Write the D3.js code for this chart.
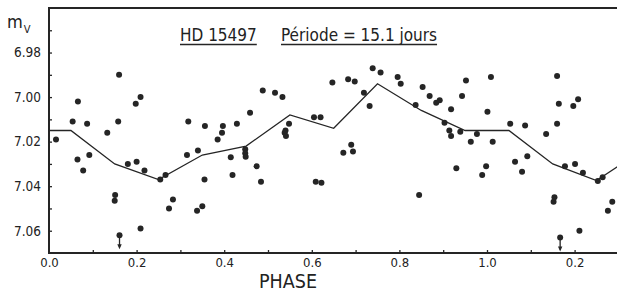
<!DOCTYPE html>
<html>
<head>
<meta charset="utf-8">
<script src="https://cdn.jsdelivr.net/npm/d3@7"></script>
<style>
  body { margin: 0; background: #fff; }
  text { font-family: "DejaVu Sans Condensed", "DejaVu Sans", sans-serif; fill: #222; }
</style>
</head>
<body>
<div id="my_dataviz"></div>
<script>
// Observed points (phase, apparent magnitude)
var phases = [0.016, 0.160, 0.066, 0.054, 0.087, 0.133, 0.158, 0.198, 0.209, 0.318,
  0.356, 0.397, 0.395, 0.385, 0.429, 0.459, 0.488, 0.516, 0.533, 0.548,
  0.540, 0.538, 0.541, 0.605, 0.620, 0.647, 0.683, 0.698, 0.719, 0.739,
  0.757, 0.732, 0.796, 0.803, 0.837, 0.853, 0.869, 0.884, 0.892, 0.918,
  0.903, 0.952, 0.943, 0.914, 0.918, 0.939, 0.963, 0.977, 0.672, 0.690,
  0.694, 0.065, 0.078, 0.092, 0.151, 0.150, 0.209, 0.180, 0.200, 0.218,
  0.254, 0.266, 0.283, 0.274, 0.315, 0.340, 0.355, 0.338, 0.350, 0.415,
  0.419, 0.448, 0.448, 0.449, 0.474, 0.484, 0.609, 0.622, 0.845, 0.930,
  0.989, 0.998,
  1.009, 1.001, 1.013, 1.053, 1.087, 1.160, 1.164, 1.160, 1.135, 1.208,
  1.197, 1.064, 1.080, 1.092, 1.152, 1.154, 1.178, 1.201, 1.219, 1.211,
  1.253, 1.264, 1.276, 1.286];
var mags = [7.019, 6.990, 7.002, 7.011, 7.012, 7.016, 7.011, 7.003, 7.000, 7.011,
  7.013, 7.013, 7.016, 7.019, 7.012, 7.007, 6.997, 6.998, 7.000, 7.012,
  7.015, 7.016, 7.0175, 7.009, 7.009, 6.9935, 6.992, 6.993, 6.998, 6.987,
  6.989, 7.004, 6.991, 6.994, 7.0035, 6.9955, 6.9995, 7.0025, 7.0014, 7.0055,
  7.0115, 6.9926, 6.9995, 7.015, 7.0175, 7.0156, 7.020, 7.0166, 7.025, 7.0214,
  7.0244, 7.028, 7.033, 7.026, 7.044, 7.0465, 7.059, 7.030, 7.029, 7.033,
  7.037, 7.035, 7.046, 7.050, 7.026, 7.024, 7.037, 7.051, 7.049, 7.027,
  7.035, 7.0234, 7.0252, 7.0268, 7.031, 7.038, 7.038, 7.0385, 7.044, 7.032,
  7.035, 7.031,
  6.991, 7.0066, 7.020, 7.012, 7.0127, 6.9905, 7.003, 7.012, 7.0166, 7.001,
  7.004, 7.029, 7.0335, 7.0266, 7.047, 7.045, 7.031, 7.030, 7.034, 7.060,
  7.0377, 7.036, 7.051, 7.047];

// Upper limits (drawn with a down arrow)
var limitPhases = [0.161, 1.167];
var limitMags = [7.062, 7.063];

// Mean light curve
var meanPhases = [0, 0.05, 0.15, 0.25, 0.35, 0.45, 0.55, 0.65, 0.75, 0.85, 0.95, 1.05, 1.15, 1.25, 1.30];
var meanMags = [7.015, 7.015, 7.030, 7.037, 7.026, 7.022, 7.008, 7.014, 6.994, 7.006, 7.015, 7.015, 7.030, 7.0375, 7.031];

// Ticks
var xTickValues = [0, 0.2, 0.4, 0.6, 0.8, 1.0, 1.2];
var xTickLabels = ["0.0", "0.2", "0.4", "0.6", "0.8", "1.0", "0.2"];
var xMinorTicks = [0.1, 0.2, 0.3, 0.4, 0.5, 0.6, 0.7, 0.8, 0.9, 1.0, 1.1, 1.2];
var yTickValues = [6.98, 7.00, 7.02, 7.04, 7.06];
var yTickLabels = ["6.98", "7.00", "7.02", "7.04", "7.06"];
var yMinorTicks = [6.97, 6.98, 6.99, 7.00, 7.01, 7.02, 7.03, 7.04, 7.05, 7.06];

var W = 617, H = 293;
var ink = "#252525";

var svg = d3.select("#my_dataviz")
  .append("svg")
    .attr("width", W)
    .attr("height", H);

var x = d3.scaleLinear().domain([0, 1.3]).range([49, 618.4]);
var y = d3.scaleLinear().domain([6.96, 7.07]).range([8, 253]);

//Frame: left, bottom, top
svg.append("line").attr("x1", 49).attr("x2", 49).attr("y1", 7).attr("y2", 254)
  .attr("stroke", ink).attr("stroke-width", 2);
svg.append("line").attr("x1", 48).attr("x2", W).attr("y1", 253).attr("y2", 253)
  .attr("stroke", ink).attr("stroke-width", 2);
svg.append("line").attr("x1", 48).attr("x2", W).attr("y1", 8).attr("y2", 8)
  .attr("stroke", ink).attr("stroke-width", 2);

//X axis: inward ticks + labels
var xAxis = svg.append("g")
  .attr("transform", "translate(0,253)")
  .call(d3.axisBottom(x).tickValues(xMinorTicks).tickSize(-3).tickSizeOuter(0).tickFormat(""));
xAxis.select(".domain").remove();
xAxis.selectAll("line").attr("stroke", ink).attr("stroke-width", 1.3);

var xLab = svg.append("g")
  .attr("transform", "translate(0,253)")
  .call(d3.axisBottom(x).tickValues(xTickValues).tickSize(0).tickPadding(5)
    .tickFormat(function(d, i) { return xTickLabels[i]; }));
xLab.select(".domain").remove();
xLab.selectAll("text").style("font-size", "13px").attr("fill", ink);

//Y axis: inward ticks + labels
var yAxis = svg.append("g")
  .attr("transform", "translate(49,0)")
  .call(d3.axisLeft(y).tickValues(yMinorTicks).tickSize(-3).tickSizeOuter(0).tickFormat(""));
yAxis.select(".domain").remove();
yAxis.selectAll("line").attr("stroke", ink).attr("stroke-width", 1.3);

var yLab = svg.append("g")
  .attr("transform", "translate(49,0)")
  .call(d3.axisLeft(y).tickValues(yTickValues).tickSize(0).tickPadding(8)
    .tickFormat(function(d, i) { return yTickLabels[i]; }));
yLab.select(".domain").remove();
yLab.selectAll("text").style("font-size", "13.5px").attr("fill", ink);

//Axis titles
svg.append("text")
  .attr("x", 288)
  .attr("y", 288)
  .attr("text-anchor", "middle")
  .style("font-size", "19.5px")
  .text("PHASE");

var my = svg.append("text")
  .attr("x", 7)
  .attr("y", 28)
  .style("font-size", "18px");
my.append("tspan").text("m");
my.append("tspan").attr("dx", 1).attr("dy", 5).style("font-size", "11px").text("V");

//Title with underlines
var titles = [{t: "HD 15497", x: 180}, {t: "Période = 15.1 jours", x: 281}];
titles.forEach(function(d) {
  var tx = svg.append("text")
    .attr("x", d.x)
    .attr("y", 41)
    .style("font-size", "17px")
    .text(d.t);
  var len = tx.node().getComputedTextLength();
  svg.append("line")
    .attr("x1", d.x).attr("x2", d.x + len)
    .attr("y1", 44.5).attr("y2", 44.5)
    .attr("stroke", ink).attr("stroke-width", 1.4);
});

//Mean curve
var meanData = meanPhases.map(function(p, i) { return [p, meanMags[i]]; });
svg.append("path")
  .datum(meanData)
  .attr("fill", "none")
  .attr("stroke", ink)
  .attr("stroke-width", 1.3)
  .attr("d", d3.line()
    .x(function(d) { return x(d[0]); })
    .y(function(d) { return y(d[1]); }));

//Dots
var pts = phases.map(function(p, i) { return {p: p, m: mags[i]}; });
svg.append("g")
  .selectAll("circle")
  .data(pts)
  .enter()
  .append("circle")
    .attr("cx", function(d) { return x(d.p); })
    .attr("cy", function(d) { return y(d.m); })
    .attr("r", 3)
    .attr("fill", ink);

//Upper limits with arrows
var lim = limitPhases.map(function(p, i) { return {p: p, m: limitMags[i]}; });
var lg = svg.append("g").selectAll("g").data(lim).enter().append("g");
lg.append("circle")
  .attr("cx", function(d) { return x(d.p); })
  .attr("cy", function(d) { return y(d.m); })
  .attr("r", 3)
  .attr("fill", ink);
lg.append("line")
  .attr("x1", function(d) { return x(d.p); })
  .attr("x2", function(d) { return x(d.p); })
  .attr("y1", function(d) { return y(d.m) + 2; })
  .attr("y2", function(d) { return y(d.m) + 12; })
  .attr("stroke", ink)
  .attr("stroke-width", 1.3);
lg.append("path")
  .attr("d", function(d) {
    var cx = x(d.p), cy = y(d.m) + 14;
    return "M" + (cx - 2.2) + "," + (cy - 5) + "L" + (cx + 2.2) + "," + (cy - 5) + "L" + cx + "," + cy + "Z";
  })
  .attr("fill", ink);
</script>
</body>
</html>
